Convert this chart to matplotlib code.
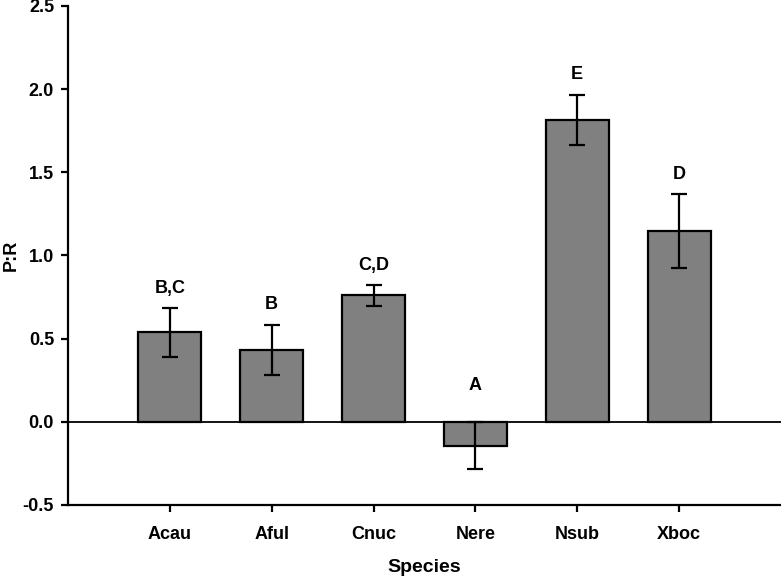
import numpy as np
import matplotlib.pyplot as plt

species = ["Acau", "Aful", "Cnuc", "Nere", "Nsub", "Xboc"]
ratio = [0.537, 0.433, 0.760, -0.144, 1.816, 1.147]
sem = [0.147, 0.150, 0.062, 0.142, 0.150, 0.222]
letters = ["B,C", "B", "C,D", "A", "E", "D"]

plt.rcParams['font.family'] = ['Liberation Sans', 'DejaVu Sans']
plt.rcParams['font.weight'] = 'bold'

fig = plt.figure(figsize=(7.81, 5.76), dpi=100)
ax = fig.add_axes([0.087, 0.1233, 0.913, 0.8663])

x = np.arange(len(species))
ax.bar(x, ratio, width=0.62, color="#808080", edgecolor="black", linewidth=1.6, zorder=2)
ax.errorbar(x, ratio, yerr=sem, fmt="none", ecolor="black", elinewidth=1.6,
            capsize=6, capthick=1.6, zorder=3)
ax.axhline(0, color="black", linewidth=1.3, zorder=4)

tops = np.maximum(np.array(ratio) + np.array(sem), 0.1)
for xi, t, lab in zip(x, tops, letters):
    ax.text(xi, t + 0.12, lab, ha="center", va="center", fontsize=13, fontweight="bold")

ax.set_xlim(-1, 6)
ax.set_ylim(-0.5, 2.5)
ax.set_yticks(np.arange(-0.5, 2.51, 0.5))
ax.set_yticklabels([f"{v:.1f}" for v in np.arange(-0.5, 2.51, 0.5)])
ax.set_xticks(x)
ax.set_xticklabels(species)

for s in ["top", "right"]:
    ax.spines[s].set_visible(False)
for s in ["left", "bottom"]:
    ax.spines[s].set_linewidth(1.6)

ax.tick_params(axis="both", direction="out", length=5, width=1.6, labelsize=13)
ax.tick_params(axis="x", pad=10)
ax.tick_params(axis="y", pad=5)
ax.set_xlabel("Species", fontsize=14, fontweight="bold", labelpad=12)
ax.set_ylabel("P:R", fontsize=13, fontweight="bold")
ax.yaxis.set_label_coords(-0.068, 0.5)

fig.savefig("out.png", dpi=100)
